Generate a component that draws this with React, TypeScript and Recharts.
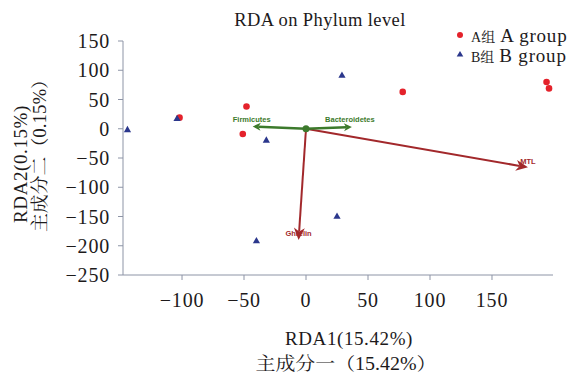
import React from 'react';
import { ScatterChart, Scatter, XAxis, YAxis, ReferenceLine } from 'recharts';

// ---- data ----
const groupAX = [-102, -48, -51, 78, 194, 196];
const groupAY = [19, 38, -9, 63, 80, 69];
const groupBX = [-144, -104, -32, -40, 29, 25];
const groupBY = [-1, 18, -19, -191, 92, -149];

const arrowNames = ['MTL', 'Ghrelin', 'Firmicutes', 'Bacteroidetes'];
const arrowX = [179, -6, -43, 37];
const arrowY = [-66, -190, 4, 3];

const xTicks = [-100, -50, 0, 50, 100, 150];
const yTicks = [150, 100, 50, 0, -50, -100, -150, -200, -250];

const groupA = groupAX.map((x, i) => ({ x, y: groupAY[i] }));
const groupB = groupBX.map((x, i) => ({ x, y: groupBY[i] }));

// ---- styles ----
const RED = '#e4222b';
const BLUE = '#2b378c';
const GREEN = '#3c7a2c';
const DARKRED = '#a2282b';
const AXIS = '#8d94a6';
const TEXT = '#1d1a1b';
const SERIF = 'Liberation Serif';
const CJK = 'Noto Serif CJK SC';

const arrowStyle: Record<string, { color: string; w: number; L: number; W: number; dx: number; dy: number }> = {
  MTL: { color: DARKRED, w: 2, L: 12, W: 5.5, dx: 0, dy: -3 },
  Ghrelin: { color: DARKRED, w: 2, L: 12, W: 5.5, dx: 0, dy: -4 },
  Firmicutes: { color: GREEN, w: 2.5, L: 8, W: 4, dx: -1, dy: -4 },
  Bacteroidetes: { color: GREEN, w: 2.5, L: 8, W: 4, dx: -2, dy: -5 },
};

const fmt = (v: number) => (v < 0 ? '\u2212' + Math.abs(v) : String(v));

const makeArrowShape = (name: string) => (p: any) => {
  const s = arrowStyle[name];
  const { x1, y1, x2, y2 } = p;
  const dx = x2 - x1;
  const dy = y2 - y1;
  const len = Math.sqrt(dx * dx + dy * dy) || 1;
  const ux = dx / len;
  const uy = dy / len;
  const nx = -uy;
  const ny = ux;
  const bx = x2 - ux * s.L;
  const by = y2 - uy * s.L;
  const nb = x2 - ux * s.L * 0.7;
  const nby = y2 - uy * s.L * 0.7;
  const pts = `${x2},${y2} ${bx + nx * s.W},${by + ny * s.W} ${nb},${nby} ${bx - nx * s.W},${by - ny * s.W}`;
  return (
    <g>
      <text
        x={x2 + s.dx}
        y={y2 + s.dy}
        textAnchor="middle"
        style={{ fontFamily: 'Liberation Sans', fontWeight: 'bold', fontSize: 7.5 }}
        fill={s.color}
      >
        {name}
      </text>
      <line x1={x1} y1={y1} x2={x2 - ux * s.L * 0.7} y2={y2 - uy * s.L * 0.7} stroke={s.color} strokeWidth={s.w} />
      <polygon points={pts} fill={s.color} />
    </g>
  );
};

const Dot = (p: any) => <circle cx={p.cx} cy={p.cy} r={3.3} fill={RED} />;
const Tri = (p: any) => (
  <polygon points={`${p.cx},${p.cy - 3.5} ${p.cx + 3.6},${p.cy + 2.8} ${p.cx - 3.6},${p.cy + 2.8}`} fill={BLUE} />
);

const serifStyle = (size: number, ls = 0) => ({ fontFamily: SERIF, fontSize: size, letterSpacing: ls });

export default function App() {
  return (
    <div style={{ position: 'absolute', left: 0, top: 0, width: 569, height: 374, background: '#fff' }}>
      <ScatterChart width={569} height={374} margin={{ top: 41, right: 16, left: 0, bottom: 0 }}>
        <XAxis
          type="number"
          dataKey="x"
          domain={[-147.6, 199.2]}
          allowDataOverflow
          ticks={xTicks}
          tickFormatter={fmt}
          height={99}
          tickSize={5}
          tickMargin={13}
          stroke={AXIS}
          tick={{ fill: TEXT, fontSize: 20, fontFamily: SERIF, letterSpacing: 0.8 }}
        />
        <YAxis
          type="number"
          dataKey="y"
          domain={[-250, 150]}
          allowDataOverflow
          ticks={yTicks}
          tickFormatter={fmt}
          width={123}
          tickSize={5}
          tickMargin={8}
          stroke={AXIS}
          tick={{ fill: TEXT, fontSize: 20, fontFamily: SERIF, letterSpacing: 0.8 }}
        />
        {arrowNames.map((n, i) => (
          <ReferenceLine
            key={n}
            segment={[{ x: 0, y: 0 }, { x: arrowX[i], y: arrowY[i] }]}
            shape={makeArrowShape(n)}
            ifOverflow="visible"
          />
        ))}
        <ReferenceLine
          segment={[{ x: 0, y: 0 }, { x: 0, y: 0 }]}
          ifOverflow="visible"
          shape={(p: any) => <circle cx={p.x1} cy={p.y1} r={3.5} fill={GREEN} />}
        />
        <Scatter name="A组 A group" data={groupA} shape={Dot} isAnimationActive={false} />
        <Scatter name="B组 B group" data={groupB} shape={Tri} isAnimationActive={false} />
      </ScatterChart>
      <svg width={569} height={374} style={{ position: 'absolute', left: 0, top: 0, pointerEvents: 'none' }}>
        <text x={320} y={26} textAnchor="middle" style={serifStyle(18.5, 0.4)} fill={TEXT}>
          RDA on Phylum level
        </text>
        {/* legend */}
        <circle cx={460} cy={35} r={3} fill={RED} />
        <text x={471} y={42} fill={TEXT} style={serifStyle(14)}>
          <tspan>A</tspan>
          <tspan style={{ fontFamily: CJK }}>组</tspan>
          <tspan dx={5} style={serifStyle(19, 0.8)}>A group</tspan>
        </text>
        <polygon points="460,51 463.3,56.5 456.7,56.5" fill={BLUE} />
        <text x={471} y={62} fill={TEXT} style={serifStyle(14)}>
          <tspan>B</tspan>
          <tspan style={{ fontFamily: CJK }}>组</tspan>
          <tspan dx={5} style={serifStyle(19, 0.8)}>B group</tspan>
        </text>
        {/* y label */}
        <text transform="translate(27,164) rotate(-90)" textAnchor="middle" style={serifStyle(19, 0.6)} fill={TEXT}>
          RDA2(0.15%)
        </text>
        <text
          transform="translate(46,151) rotate(-90)"
          textAnchor="middle"
          style={serifStyle(18)}
          fill={TEXT}
          textLength={162}
          lengthAdjust="spacingAndGlyphs"
        >
          <tspan style={{ fontFamily: CJK }}>主成分二（</tspan>0.15%<tspan style={{ fontFamily: CJK }}>）</tspan>
        </text>
        {/* x label */}
        <text x={349} y={345} textAnchor="middle" style={serifStyle(19, 0.6)} fill={TEXT}>
          RDA1(15.42%)
        </text>
        <text
          x={346}
          y={370}
          textAnchor="middle"
          style={serifStyle(18)}
          fill={TEXT}
          textLength={181}
          lengthAdjust="spacingAndGlyphs"
        >
          <tspan style={{ fontFamily: CJK }}>主成分一（</tspan>15.42%<tspan style={{ fontFamily: CJK }}>）</tspan>
        </text>
      </svg>
    </div>
  );
}
